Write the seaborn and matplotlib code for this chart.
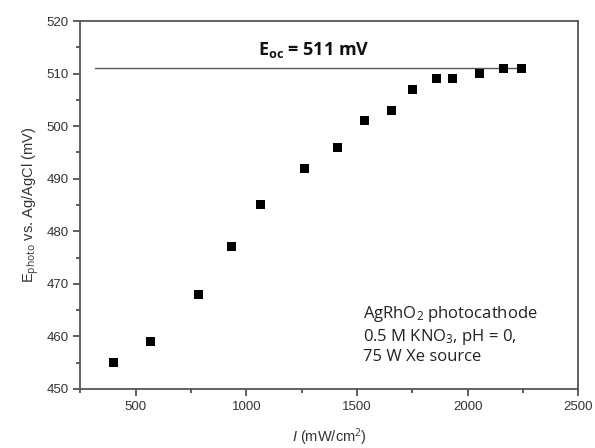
import matplotlib
matplotlib.use("Agg")
import matplotlib.pyplot as plt
import seaborn as sns
import pandas as pd
from matplotlib.ticker import MultipleLocator

# light intensity (mW/cm2) and photovoltage (mV)
intensity = [400, 568, 786, 932, 1066, 1264, 1414, 1536, 1655, 1750, 1859, 1932, 2055, 2164, 2245]
e_photo = [455, 459, 468, 477, 485, 492, 496, 501, 503, 507, 509, 509, 510, 511, 511]
e_oc = 511
e_oc_span = [318, 2245]

df = pd.DataFrame({"I": intensity, "E": e_photo})

sns.set_theme(style="white")
plt.rcParams["font.family"] = ["Liberation Sans", "DejaVu Sans"]
plt.rcParams["mathtext.fontset"] = "custom"
plt.rcParams["mathtext.rm"] = "Open Sans"
plt.rcParams["mathtext.it"] = "Liberation Sans:italic"
plt.rcParams["mathtext.bf"] = "Open Sans:bold"

fig, ax = plt.subplots(figsize=(5.95, 4.48), dpi=100)
sns.scatterplot(data=df, x="I", y="E", marker="s", s=42, color="black",
                edgecolor="none", ax=ax, zorder=3)
ax.plot(e_oc_span, [e_oc, e_oc], color="#555555", lw=1.0, zorder=2)

ax.set_xlim(250, 2500)
ax.set_ylim(450, 520)
ax.xaxis.set_major_locator(MultipleLocator(500))
ax.xaxis.set_minor_locator(MultipleLocator(250))
ax.yaxis.set_major_locator(MultipleLocator(10))
ax.yaxis.set_minor_locator(MultipleLocator(5))
ax.tick_params(which="both", direction="out", color="#444444", width=1.2,
               labelsize=9.5, labelcolor="#333333", bottom=True, left=True)
ax.tick_params(which="major", length=5)
ax.tick_params(which="minor", length=3)
for sp in ax.spines.values():
    sp.set_color("#555555")
    sp.set_linewidth(1.3)

ax.set_xlabel(r"$\it{I}$ (mW/cm$^{\rm 2}$)", fontsize=10.5, color="#333333", labelpad=10)
ax.set_ylabel(r"E$_{\rm photo}$ vs. Ag/AgCl (mV)", fontsize=10.5, color="#333333")

ax.text(0.357, 0.92, r"E$_{\mathbf{oc}}$ = 511 mV", transform=ax.transAxes,
        fontsize=13, fontweight="bold", family=["Open Sans", "DejaVu Sans"],
        color="#111111", va="center")
ax.text(0.567, 0.065, "AgRhO$_{\\rm 2}$ photocathode\n0.5 M KNO$_{\\rm 3}$, pH = 0,\n75 W Xe source",
        transform=ax.transAxes, fontsize=12, family=["Open Sans", "DejaVu Sans"],
        color="#222222", linespacing=1.2, va="bottom")

plt.subplots_adjust(left=0.135, right=0.972, top=0.953, bottom=0.132)
fig.savefig("out.png", dpi=100)
